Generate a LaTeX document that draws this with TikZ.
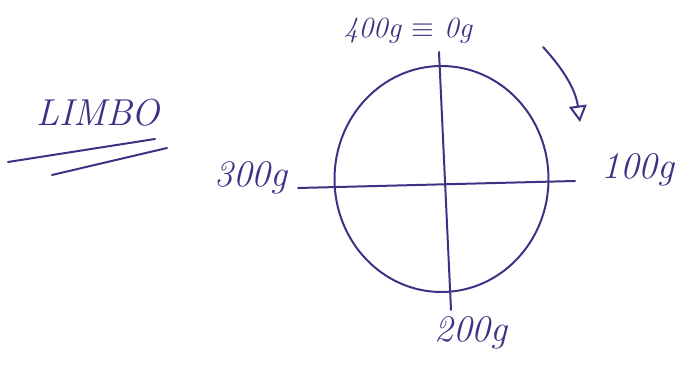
\documentclass[tikz,border=0pt]{standalone}
\usepackage{amsmath,amssymb}
\usetikzlibrary{arrows.meta,positioning}
\definecolor{inchiostro}{RGB}{64,48,132}

\begin{document}
\begin{tikzpicture}[
  x=0.03cm, y=-0.03cm,
  every node/.style={font=\fontsize{32}{34}\selectfont\itshape, text=inchiostro, inner sep=1pt},
  tratto/.style={draw=inchiostro, line width=1.7pt, line cap=round},
  piccolo/.style={font=\fontsize{25}{27}\selectfont\itshape}
]
  \useasboundingbox (0,0) rectangle (687,371);
  % cerchio del limbo
  \draw[tratto] (441.5,179) ellipse [x radius=107, y radius=113];
  % assi
  \coordinate (nord) at (439,52);
  \coordinate (sud) at (451,310);
  \coordinate (ovest) at (298,188);
  \coordinate (est) at (575,181);
  \draw[tratto] (nord) -- (sud);
  \draw[tratto] (ovest) -- (est);
  % etichette
  \node[piccolo] (g400) at (408,31) {400g $\equiv$ 0g};
  \node (g100) at (638,170) {100g};
  \node (g200) at (471,333) {200g};
  \node (g300) at (251,178) {300g};
  % verso di rotazione
  \coordinate (fa) at (543,47);
  \coordinate (fb) at (580,122);
  \draw[tratto, -{Triangle[open, length=14pt, width=15pt]}] (fa) .. controls (566,72) and (576,92) .. (fb);
  % titolo sottolineato
  \node (titolo) at (98,113) {LIMBO};
  \coordinate (s1a) at (8,162);
  \coordinate (s1b) at (155,139);
  \coordinate (s2a) at (52,175);
  \coordinate (s2b) at (167,148);
  \draw[tratto] (s1a) -- (s1b);
  \draw[tratto] (s2a) -- (s2b);
\end{tikzpicture}
\end{document}
